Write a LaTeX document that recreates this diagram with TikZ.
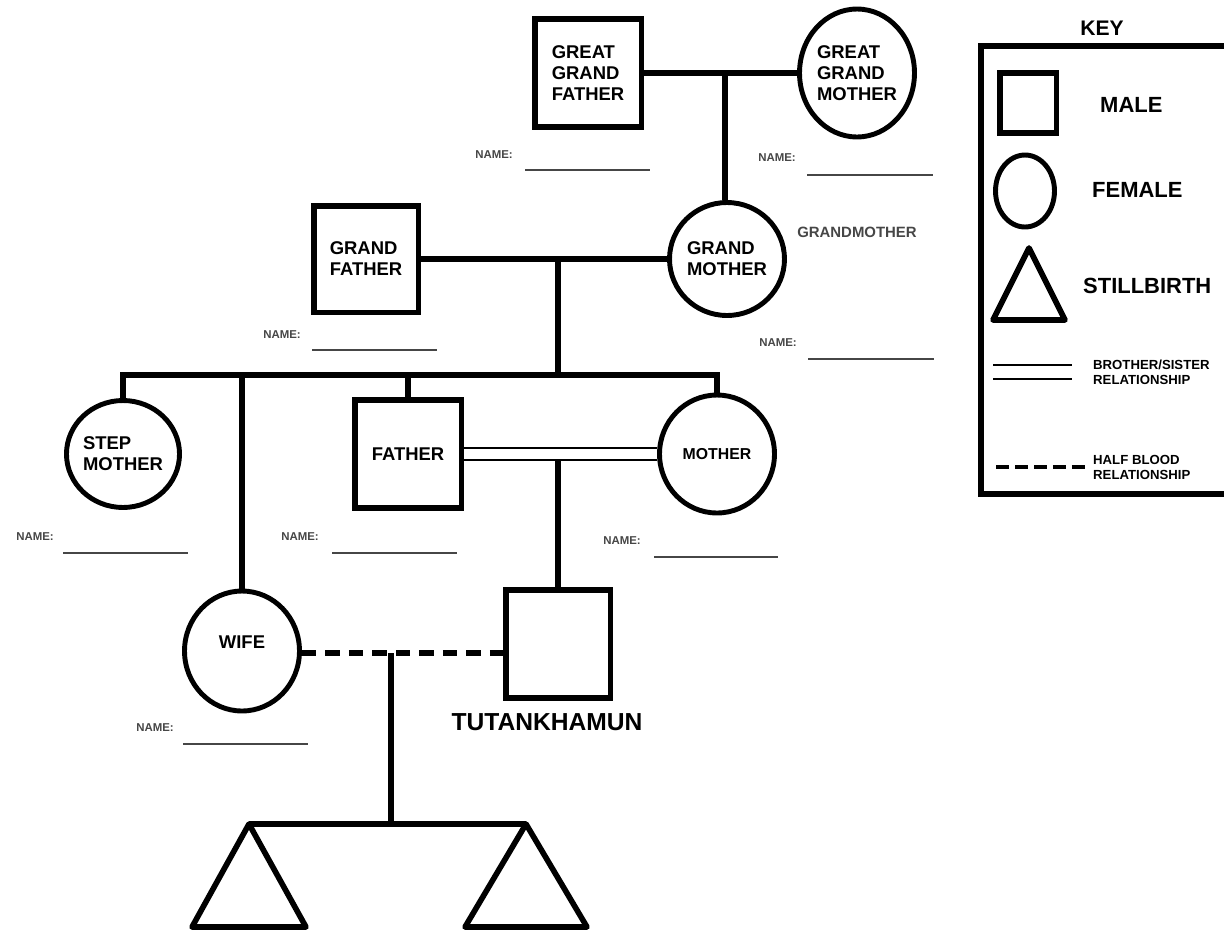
\documentclass[tikz,border=0pt]{standalone}
\usepackage{fontspec}
\setmainfont{Liberation Sans}
\usetikzlibrary{positioning,shapes.geometric}
\definecolor{NMgray}{RGB}{70,70,70}

\begin{document}
\begin{tikzpicture}[
  x=0.02cm, y=-0.02cm,
  male/.style={rectangle,draw,line width=3.4pt,minimum width=2.14cm,minimum height=2.16cm,inner sep=0pt,align=left,font=\fontsize{10.5}{12}\selectfont\bfseries},
  female/.style={ellipse,draw,line width=2.8pt,minimum width=2.3cm,minimum height=2.3cm,inner sep=0pt,align=left,font=\fontsize{10.5}{12}\selectfont\bfseries},
  link/.style={line width=3.2pt},
  sibrel/.style={double,line width=1.4pt,double distance=5.2pt},
  halfrel/.style={line width=3.2pt,dash pattern=on 0.29cm off 0.18cm},
  stillbirth/.style={line width=3.2pt,line join=round},
  namelbl/.style={font=\fontsize{6.5}{7}\selectfont\bfseries,text=NMgray},
  nameline/.style={line width=1.1pt,draw=NMgray},
  keytext/.style={anchor=west,font=\fontsize{12.5}{14}\selectfont\bfseries},
  keysmall/.style={anchor=west,align=left,font=\fontsize{7.5}{8.5}\selectfont\bfseries},
]
\useasboundingbox (0,0) rectangle (1224,934);

% Great grandparents
\node[male] (ggf) at (588,73) {GREAT\\GRAND\\FATHER};
\node[female,minimum height=2.56cm] (ggm) at (857,73) {GREAT\\GRAND\\MOTHER};
\coordinate (ggc) at (725,73);

% Grandparents
\node[male,minimum width=2.1cm,minimum height=2.14cm] (gf) at (366,259) {GRAND\\FATHER};
\node[female,minimum height=2.26cm] (gm) at (727,259) {GRAND\\MOTHER};
\node[font=\fontsize{8.5}{10}\selectfont\bfseries,text=NMgray] (gmlbl) at (857,232) {GRANDMOTHER};
\coordinate (gc) at (558,259);
\coordinate (sib) at (558,375);

% Parents
\node[female,minimum width=2.24cm,minimum height=2.14cm] (sm) at (123,454) {STEP\\MOTHER};
\node[male] (fa) at (408,454) {FATHER};
\node[female,minimum height=2.36cm,font=\fontsize{9}{11}\selectfont\bfseries] (mo) at (717,454) {MOTHER};
\coordinate (pc) at (558,460);

% Tutankhamun and wife
\node[female,minimum height=2.4cm,label={[font=\fontsize{10.5}{12}\selectfont\bfseries,yshift=0.18cm]center:WIFE}] (wife) at (242,651) {};
\node[male,minimum width=2.1cm] (tut) at (558,644) {};
\node[below=0.12cm of tut,xshift=-0.22cm,font=\fontsize{14}{16}\selectfont\bfseries] (tutname) {TUTANKHAMUN};
\coordinate (wc) at (391,653);

% Stillbirths
\coordinate (sb1) at (249,824);
\coordinate (sb2) at (526,824);

% Name fields
\node[namelbl] (ggfname) at (494,155) {NAME:};
\draw[nameline] (525,170) -- (650,170);
\node[namelbl] (ggmname) at (777,158) {NAME:};
\draw[nameline] (807,175) -- (933,175);
\node[namelbl] (gfname) at (282,335) {NAME:};
\draw[nameline] (312,350) -- (437,350);
\node[namelbl] (gmname) at (778,343) {NAME:};
\draw[nameline] (808,359) -- (934,359);
\node[namelbl] (smname) at (35,537) {NAME:};
\draw[nameline] (63,553) -- (188,553);
\node[namelbl] (faname) at (300,537) {NAME:};
\draw[nameline] (332,553) -- (457,553);
\node[namelbl] (moname) at (622,541) {NAME:};
\draw[nameline] (654,557) -- (778,557);
\node[namelbl] (wifename) at (155,728) {NAME:};
\draw[nameline] (183,744) -- (308,744);

% Lines
\draw[link] (ggf) -- (ggm);
\draw[link] (ggc) -- (ggc |- gm.north);
\draw[link] (gf) -- (gm);
\draw[link] (gc) -- (sib);
\draw[link] (sm.north) -- (sm.north |- sib) -- (mo.north |- sib) -- (mo.north);
\draw[link] (wife.north |- sib) -- (wife.north);
\draw[link] (fa.north |- sib) -- (fa.north);
\draw[sibrel] (fa) -- (mo);
\draw[link] (pc) -- (tut.north);
\draw[halfrel] (wc -| wife.east) -- (wc -| tut.west);
\draw[link] (wc) -- (wc |- sb1);
\draw[link] (sb1) -- (sb2);
\draw[stillbirth] (sb1) -- ++(-57,103) -- ++(114,0) -- cycle;
\draw[stillbirth] (sb2) -- ++(-61,103) -- ++(122,0) -- cycle;

% Key
\node[font=\fontsize{12}{14}\selectfont\bfseries] (keytitle) at (1102,28) {KEY};
\draw[line width=3.4pt] (981,46) rectangle (1262,494);
\node[male,minimum width=1.14cm,minimum height=1.2cm] (kmale) at (1028,103) {};
\node[keytext] (kmaletxt) at (1094,105) {MALE};
\node[female,minimum width=1.18cm,minimum height=1.44cm] (kfemale) at (1025,191) {};
\node[keytext] (kfemaletxt) at (1086,190) {FEMALE};
\coordinate (ksb) at (1029,248);
\draw[stillbirth] (ksb) -- ++(-36,72) -- ++(72,0) -- cycle;
\node[keytext] (ksbtxt) at (1077,286) {STILLBIRTH};
\draw[sibrel,line width=1.1pt,double distance=6.8pt] (993,372) -- (1072,372);
\node[keysmall] (ksibtxt) at (1087,372) {BROTHER/SISTER\\RELATIONSHIP};
\draw[halfrel,line width=2.8pt,dash pattern=on 0.26cm off 0.12cm] (996,467) -- (1085,467);
\node[keysmall] (khalftxt) at (1087,467) {HALF BLOOD\\RELATIONSHIP};

\end{tikzpicture}
\end{document}
